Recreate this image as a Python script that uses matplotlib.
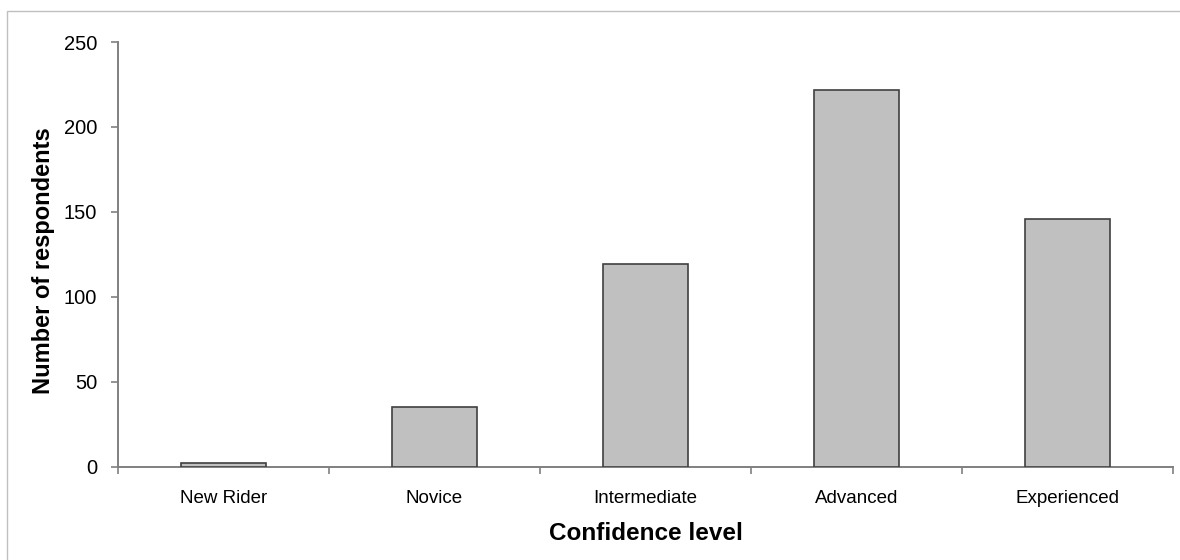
import matplotlib
matplotlib.use("Agg")
import matplotlib.pyplot as plt
from matplotlib.patches import Rectangle
import numpy as np

categories = ["New Rider", "Novice", "Intermediate", "Advanced", "Experienced"]
respondents = [2, 35, 119, 222, 146]
y_ticks = [0, 50, 100, 150, 200, 250]

plt.rcParams['font.family'] = ['Liberation Sans', 'DejaVu Sans']

fig = plt.figure(figsize=(11.8, 5.6), dpi=100)
ax = fig.add_axes([118/1180, 1 - 466.5/560, (1173-118)/1180, (466.5-42)/560])

x = np.arange(len(categories))
ax.bar(x, respondents, width=0.4, color="#C0C0C0", edgecolor="#404040", linewidth=1.2, zorder=3)

ax.set_xlim(-0.5, len(categories) - 0.5)
ax.set_ylim(0, 250)
ax.set_yticks(y_ticks)
ax.set_yticklabels([str(t) for t in y_ticks], fontsize=14.5)

ax.set_xticks(x)
ax.set_xticklabels(categories, fontsize=13.5)
ax.tick_params(axis='x', length=0, pad=17)
ax.set_xticks(np.arange(len(categories) + 1) - 0.5, minor=True)
ax.tick_params(axis='x', which='minor', length=5, color="#808080", width=1.2, direction='out')
ax.tick_params(axis='y', length=5, color="#808080", width=1.2, direction='out', pad=10)

for s in ['top', 'right']:
    ax.spines[s].set_visible(False)
for s in ['left', 'bottom']:
    ax.spines[s].set_color("#808080")
    ax.spines[s].set_linewidth(1.4)

ax.set_ylabel("Number of respondents", fontsize=17, fontweight='bold')
ax.yaxis.set_label_coords(-0.060, 0.484)
ax.set_xlabel("Confidence level", fontsize=17.5, fontweight='bold', labelpad=11)

fig.patches.append(Rectangle((7/1180, -0.1), 1.2, 1 - 11/560 + 0.1, transform=fig.transFigure,
                             fill=False, edgecolor="#BFBFBF", linewidth=1.0))

fig.savefig("out.png", dpi=100)
